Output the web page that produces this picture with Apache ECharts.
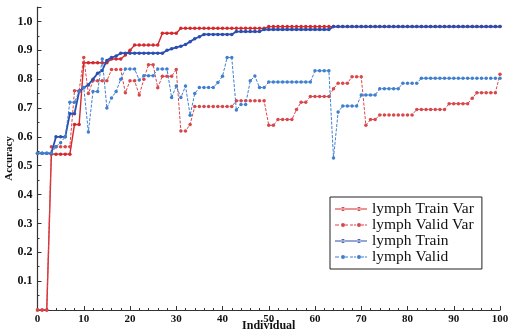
<!DOCTYPE html>
<html>
<head>
<meta charset="utf-8">
<script src="https://cdn.jsdelivr.net/npm/echarts@6/dist/echarts.min.js"></script>
<style>
  html, body { margin: 0; padding: 0; background: #fff; }
  #chart { width: 508px; height: 333px; }
</style>
</head>
<body>
<div id="chart"></div>
<script>
// Accuracy per individual (0..100) for the lymph dataset runs
const seriesNames = ['lymph Train Var', 'lymph Valid Var', 'lymph Train', 'lymph Valid'];

const trainVar = [
  0, 0, 0,
  0.54, 0.54, 0.54, 0.54, 0.54,
  0.643, 0.643,
  0.857, 0.857, 0.857, 0.857, 0.857, 0.857,
  0.87, 0.87, 0.87,
  0.884, 0.9,
  0.918, 0.918, 0.918, 0.918, 0.918, 0.918,
  0.959, 0.959, 0.959, 0.959,
  0.976, 0.976, 0.976, 0.976, 0.976, 0.976, 0.976, 0.976, 0.976, 0.976,
  0.976, 0.976, 0.976, 0.976, 0.976, 0.976, 0.976, 0.976, 0.976,
  0.982, 0.982, 0.982, 0.982, 0.982, 0.982, 0.982, 0.982, 0.982, 0.982,
  0.982, 0.982, 0.982, 0.982, 0.982, 0.982, 0.982, 0.982, 0.982, 0.982,
  0.982, 0.982, 0.982, 0.982, 0.982, 0.982, 0.982, 0.982, 0.982, 0.982,
  0.982, 0.982, 0.982, 0.982, 0.982, 0.982, 0.982, 0.982, 0.982, 0.982,
  0.982, 0.982, 0.982, 0.982, 0.982, 0.982, 0.982, 0.982, 0.982, 0.982,
  0.982
];

const validVar = [
  0, 0, 0,
  0.566, 0.566, 0.566, 0.566, 0.566,
  0.76, 0.76, 0.875, 0.75,
  0.794, 0.794, 0.794, 0.794,
  0.833, 0.833, 0.833,
  0.753, 0.794, 0.794, 0.745, 0.8, 0.85, 0.85, 0.77,
  0.81, 0.81, 0.81, 0.833,
  0.62, 0.62, 0.643,
  0.705, 0.705, 0.705, 0.705, 0.705, 0.705, 0.705, 0.705, 0.705,
  0.725, 0.725, 0.725, 0.725, 0.725, 0.725, 0.725,
  0.64, 0.64,
  0.66, 0.66, 0.66, 0.66,
  0.695, 0.72, 0.72,
  0.74, 0.74, 0.74, 0.74, 0.74,
  0.767, 0.786, 0.786, 0.786,
  0.808, 0.808, 0.808,
  0.64, 0.66, 0.66,
  0.676, 0.676, 0.676, 0.676, 0.676, 0.676, 0.676, 0.676,
  0.695, 0.695, 0.695, 0.695, 0.695, 0.695, 0.695,
  0.715, 0.715, 0.715, 0.715, 0.715,
  0.734,
  0.753, 0.753, 0.753, 0.753, 0.753,
  0.817
];

const train = [
  0.543, 0.543, 0.543, 0.543,
  0.6, 0.6, 0.6,
  0.68, 0.68,
  0.757, 0.771, 0.78, 0.8, 0.82, 0.83, 0.865, 0.875, 0.88,
  0.89, 0.89, 0.89, 0.89, 0.89, 0.89, 0.89, 0.89, 0.89, 0.89,
  0.9, 0.905, 0.91, 0.914, 0.92, 0.93, 0.94, 0.947,
  0.955, 0.955, 0.955, 0.955, 0.955, 0.955, 0.955,
  0.965, 0.965, 0.965, 0.965, 0.965, 0.965,
  0.972, 0.972, 0.972, 0.972, 0.972, 0.972, 0.972, 0.972, 0.972, 0.972,
  0.972, 0.972, 0.972, 0.972, 0.972,
  0.982, 0.982, 0.982, 0.982, 0.982, 0.982, 0.982, 0.982, 0.982, 0.982,
  0.982, 0.982, 0.982, 0.982, 0.982, 0.982, 0.982, 0.982, 0.982, 0.982,
  0.982, 0.982, 0.982, 0.982, 0.982, 0.982, 0.982, 0.982, 0.982, 0.982,
  0.982, 0.982, 0.982, 0.982, 0.982, 0.982, 0.982
];

const valid = [
  0.543, 0.543, 0.543, 0.543,
  0.566, 0.58, 0.6, 0.72, 0.72, 0.757, 0.771, 0.617,
  0.757, 0.757, 0.87, 0.70, 0.735, 0.757, 0.80,
  0.835, 0.835, 0.835, 0.797,
  0.812, 0.812, 0.812,
  0.835, 0.835, 0.835,
  0.736, 0.776, 0.736, 0.776, 0.675, 0.75,
  0.771, 0.771, 0.771, 0.771,
  0.788, 0.81, 0.875, 0.875,
  0.693, 0.712, 0.712, 0.794, 0.811, 0.771, 0.771,
  0.79, 0.79, 0.79, 0.79, 0.79, 0.79, 0.79, 0.79, 0.79, 0.79,
  0.829, 0.829, 0.829, 0.829,
  0.527, 0.686,
  0.707, 0.707, 0.707, 0.707,
  0.745, 0.745, 0.745, 0.745,
  0.767, 0.767, 0.767, 0.767, 0.767,
  0.786, 0.786, 0.786, 0.786,
  0.803, 0.803, 0.803, 0.803, 0.803, 0.803, 0.803, 0.803, 0.803,
  0.803, 0.803, 0.803, 0.803, 0.803, 0.803, 0.803, 0.803, 0.803
];

const xTicks = [0, 10, 20, 30, 40, 50, 60, 70, 80, 90, 100];
const yTicks = [0.1, 0.2, 0.3, 0.4, 0.5, 0.6, 0.7, 0.8, 0.9, 1.0];

const colors = ['#d3282c', '#d8474b', '#2a4fb0', '#3f7fce'];
const serif = '"Liberation Serif", "DejaVu Serif", serif';

// legend glyphs: a short line carrying two dots (solid or broken)
const solidIcon = 'path://M0,2.4H32V3.6H0Z M6,3A2,2 0 1,0 10,3A2,2 0 1,0 6,3Z M22,3A2,2 0 1,0 26,3A2,2 0 1,0 22,3Z';
const dottedIcon = 'path://M0,2.5H4V3.5H0Z M10,2.5H13V3.5H10Z M15,2.5H18V3.5H15Z M19,2.5H21V3.5H19Z M26,2.5H29V3.5H26Z M30,2.5H32V3.5H30Z M6,3A2,2 0 1,0 10,3A2,2 0 1,0 6,3Z M22,3A2,2 0 1,0 26,3A2,2 0 1,0 22,3Z';

const toPairs = arr => arr.map((v, i) => [i, v]);

const chart = echarts.init(document.getElementById('chart'), null, { renderer: 'canvas' });

const option = {
  animation: false,
  backgroundColor: '#fff',
  grid: { left: 37.5, right: 8, top: 7, bottom: 23, containLabel: false, outerBoundsMode: 'none' },
  legend: {
    orient: 'vertical',
    left: 330,
    top: 197,
    padding: [4, 8, 4, 5],
    itemGap: 0,
    itemWidth: 32,
    itemHeight: 5,
    borderColor: '#222',
    borderWidth: 1,
    backgroundColor: '#fff',
    textStyle: { fontFamily: serif, fontSize: 15.5, color: '#111', lineHeight: 15.3 },
    data: [
      { name: seriesNames[0], icon: solidIcon },
      { name: seriesNames[1], icon: dottedIcon },
      { name: seriesNames[2], icon: solidIcon },
      { name: seriesNames[3], icon: dottedIcon }
    ]
  },
  xAxis: {
    type: 'value',
    min: xTicks[0],
    max: xTicks[xTicks.length - 1],
    interval: 10,
    name: 'Individual',
    nameLocation: 'middle',
    nameGap: 10,
    nameMoveOverlap: false,
    nameTextStyle: { fontFamily: serif, fontSize: 12, color: '#111', fontWeight: 'bold' },
    axisLine: { lineStyle: { color: '#333', width: 1.2 } },
    axisTick: { inside: true, length: 4, lineStyle: { color: '#333' } },
    minorTick: { show: true, splitNumber: 5, length: 2, lineStyle: { color: '#333' } },
    splitLine: { show: false },
    axisLabel: {
      fontFamily: serif, fontSize: 11, color: '#111', fontWeight: 'bold', margin: 4,
      formatter: v => (xTicks.indexOf(v) >= 0 ? String(v) : '')
    }
  },
  yAxis: {
    type: 'value',
    min: 0,
    max: 1.05,
    interval: 0.1,
    name: 'Accuracy',
    nameLocation: 'middle',
    nameGap: 23,
    nameMoveOverlap: false,
    nameTextStyle: { fontFamily: serif, fontSize: 11, color: '#111', fontWeight: 'bold' },
    axisLine: { show: true, lineStyle: { color: '#333', width: 1.2 } },
    axisTick: { inside: true, length: 4, lineStyle: { color: '#333' } },
    minorTick: { show: true, splitNumber: 2, length: 2, lineStyle: { color: '#333' } },
    splitLine: { show: false },
    axisLabel: {
      fontFamily: serif, fontSize: 12, color: '#111', fontWeight: 'bold', margin: 5,
      formatter: v => {
        const hit = yTicks.find(t => Math.abs(t - v) < 1e-6);
        return hit !== undefined ? hit.toFixed(1) : '';
      }
    }
  },
  series: [
    {
      name: seriesNames[0], type: 'line', data: toPairs(trainVar),
      symbol: 'circle', symbolSize: 3.5, color: colors[0],
      lineStyle: { width: 1.4, color: colors[0] }, z: 2
    },
    {
      name: seriesNames[1], type: 'line', data: toPairs(validVar),
      symbol: 'circle', symbolSize: 3.5, color: colors[1],
      lineStyle: { width: 1, color: colors[1], type: [3, 1.5] }, z: 3
    },
    {
      name: seriesNames[2], type: 'line', data: toPairs(train),
      symbol: 'circle', symbolSize: 3.5, color: colors[2],
      lineStyle: { width: 1.8, color: colors[2] }, z: 4
    },
    {
      name: seriesNames[3], type: 'line', data: toPairs(valid),
      symbol: 'circle', symbolSize: 3.5, color: colors[3],
      lineStyle: { width: 1, color: colors[3], type: [3, 1.5] }, z: 5
    }
  ]
};

chart.setOption(option);
</script>
</body>
</html>
